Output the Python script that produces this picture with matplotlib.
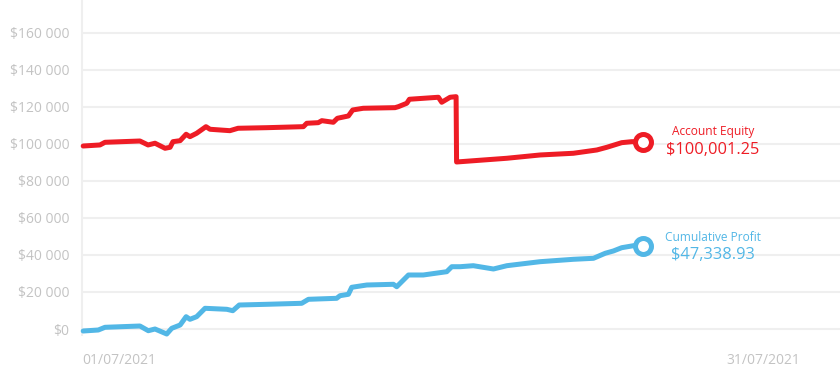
import matplotlib.pyplot as plt
from matplotlib.ticker import FuncFormatter

# days since 01/07/2021
equity_days = [0.05, 0.75, 0.96, 2.42, 2.76, 3.05, 3.47, 3.68, 3.80, 4.10, 4.35, 4.51, 4.79,
               5.18, 5.35, 6.18, 6.52, 7.72, 9.25, 9.39, 9.87, 10.02, 10.50, 10.67, 11.13,
               11.31, 11.75, 13.08, 13.22, 13.57, 13.68, 14.89, 15.03, 15.38, 15.63, 15.65,
               16.21, 17.75, 19.14, 20.53, 21.51, 21.93, 22.55, 22.97, 23.46]
equity = [98900, 99460, 100900, 101600, 99460, 100400, 97670, 98200, 101240, 101780, 105240,
          103940, 105780, 109350, 107940, 107180, 108480, 108800, 109350, 111180, 111500,
          112590, 111720, 113880, 115130, 118370, 119290, 119620, 120160, 122000, 124160,
          125240, 122530, 125240, 125560, 90260, 90800, 92270, 94050, 94970, 96750, 98210,
          100700, 101240, 101080]

profit_days = [0.05, 0.68, 0.96, 2.42, 2.77, 3.05, 3.54, 3.75, 4.10, 4.35, 4.51, 4.79, 5.14,
               6.05, 6.30, 6.57, 7.72, 9.18, 9.46, 10.64, 10.78, 11.13, 11.27, 11.90, 13.01,
               13.15, 13.36, 13.64, 14.26, 15.24, 15.45, 15.80, 16.35, 17.19, 17.75, 19.14,
               20.53, 21.37, 21.86, 22.20, 22.55, 23.04, 23.46]
profit = [-1080, -540, 920, 1620, -920, 0, -2700, 380, 2160, 6650, 5240, 6650, 11190, 10650,
          9890, 12970, 13350, 13890, 16050, 16590, 18000, 18760, 22540, 23780, 24160, 22860,
          25570, 29190, 29190, 30970, 33670, 33670, 34210, 32430, 34210, 36380, 37670, 38210,
          40920, 42160, 43940, 45020, 45020]

y_ticks = [0, 20000, 40000, 60000, 80000, 100000, 120000, 140000, 160000]
x_ticks = [0, 30]
x_labels = ['01/07/2021', '31/07/2021']

equity_label = 'Account Equity'
equity_text = '$100,001.25'
profit_label = 'Cumulative Profit'
profit_text = '$47,338.93'

red = '#ee1c25'
blue = '#52b7e6'
grey = '#c3c3c3'
grid = '#efefef'

plt.rcParams['font.family'] = ['Open Sans', 'DejaVu Sans']

fig = plt.figure(figsize=(8.4, 3.83), dpi=100)
ax = fig.add_axes([82 / 840, 1 - 335 / 383, 1 - 82 / 840, 335 / 383])

ax.plot(equity_days, equity, color=red, lw=3.6, solid_joinstyle='round',
        solid_capstyle='round', clip_on=False, zorder=3)
ax.plot(profit_days, profit, color=blue, lw=3.6, solid_joinstyle='round',
        solid_capstyle='round', clip_on=False, zorder=3)

# end markers
ax.plot(equity_days[-1], equity[-1], 'o', ms=11.5, mew=3.6, mfc='white', mec=red, zorder=4)
ax.plot(profit_days[-1], profit[-1], 'o', ms=11.5, mew=3.6, mfc='white', mec=blue, zorder=4)

# labels next to the end points
lx = equity_days[-1] + 2.9
ax.text(lx, equity[-1] + 5400, equity_label, color=red, fontsize=8.6, ha='center', va='center')
ax.text(lx, equity[-1] - 4400, equity_text, color=red, fontsize=11.8, ha='center', va='center')
ax.text(lx, profit[-1] + 4300, profit_label, color=blue, fontsize=8.6, ha='center', va='center')
ax.text(lx, profit[-1] - 5100, profit_text, color=blue, fontsize=11.8, ha='center', va='center')

ax.set_xlim(0, 31.67)
ax.set_ylim(-3240, 177800)

ax.set_yticks(y_ticks)
ax.yaxis.set_major_formatter(FuncFormatter(lambda v, p: '$' + format(int(v), ',').replace(',', ' ')))
ax.set_xticks(x_ticks)
ax.set_xticklabels(x_labels)
for lab, ha in zip(ax.get_xticklabels(), ['left', 'right']):
    lab.set_ha(ha)

ax.tick_params(axis='both', length=0, colors=grey, labelsize=10)
ax.tick_params(axis='y', pad=9)
ax.tick_params(axis='x', pad=13)

ax.grid(axis='y', color=grid, lw=1.5)
ax.set_axisbelow(True)
for side in ['top', 'right', 'bottom']:
    ax.spines[side].set_visible(False)
ax.spines['left'].set_color(grid)
ax.spines['left'].set_linewidth(1.5)

fig.savefig('out.png', dpi=100, facecolor='white')
